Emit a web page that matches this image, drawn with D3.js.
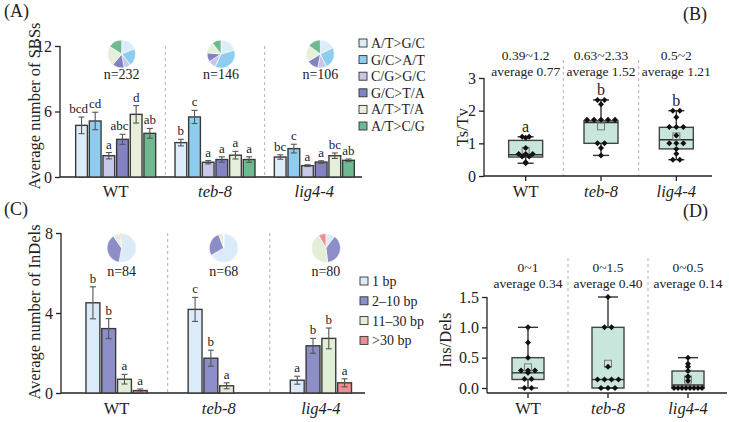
<!DOCTYPE html>
<html><head><meta charset="utf-8">
<script src="https://cdn.jsdelivr.net/npm/d3@7"></script>
<style>body{margin:0;background:#fff}svg{display:block}</style>
</head><body><svg id="c" width="729" height="422"></svg>
<script>
// ---------------- DATA ----------------
const groups = ["WT", "teb-8", "lig4-4"];

// Panel A: SBS
const sbsTypes = ["A/T>G/C", "G/C>A/T", "C/G>G/C", "G/C>T/A", "A/T>T/A", "A/T>C/G"];
const sbsMeanWT = [4.73, 5.13, 1.95, 3.45, 5.74, 4.0];
const sbsMeanTeb8 = [3.15, 5.5, 1.35, 1.6, 2.0, 1.6];
const sbsMeanLig44 = [1.83, 2.6, 1.04, 1.37, 1.95, 1.53];
const sbsErrWT = [0.76, 0.8, 0.29, 0.46, 0.8, 0.45];
const sbsErrTeb8 = [0.3, 0.6, 0.15, 0.25, 0.35, 0.25];
const sbsErrLig44 = [0.2, 0.4, 0.08, 0.12, 0.25, 0.12];
const sbsLetWT = ["bcd", "cd", "a", "abc", "d", "ab"];
const sbsLetTeb8 = ["b", "c", "a", "a", "a", "a"];
const sbsLetLig44 = ["bc", "c", "a", "a", "bc", "ab"];
const sbsN = ["n=232", "n=146", "n=106"];
const sbsTicks = [0, 6, 12];

// Panel C: InDels
const indelTypes = ["1 bp", "2\u201310 bp", "11\u201330 bp", ">30 bp"];
const indelMeanWT = [4.51, 3.22, 0.69, 0.12];
const indelMeanTeb8 = [4.18, 1.74, 0.36, 0];
const indelMeanLig44 = [0.64, 2.36, 2.73, 0.51];
const indelErrWT = [0.8, 0.5, 0.24, 0.08];
const indelErrTeb8 = [0.6, 0.4, 0.15, 0];
const indelErrLig44 = [0.2, 0.37, 0.52, 0.2];
const indelLetWT = ["b", "b", "a", "a"];
const indelLetTeb8 = ["c", "b", "a", ""];
const indelLetLig44 = ["a", "b", "b", "a"];
const indelN = ["n=84", "n=68", "n=80"];
const indelTicks = [0, 4, 8];

// Panel B: Ts/Tv
const tsWT = [1.2, 1.2, 1.17, 0.86, 0.67, 0.67, 0.67, 0.6, 0.6, 0.42, 0.39];
const tsTeb8 = [2.33, 2.33, 2.2, 1.72, 1.72, 1.72, 1.72, 1.72, 1.0, 1.0, 0.86, 0.63];
const tsLig44 = [2.0, 2.0, 1.8, 1.5, 1.5, 1.5, 1.24, 1.0, 1.0, 1.0, 0.83, 0.68, 0.5, 0.5];
const tsMin = [0.39, 0.63, 0.5];
const tsQ1 = [0.58, 1.0, 0.83];
const tsMed = [0.65, 1.64, 1.11];
const tsQ3 = [1.09, 1.69, 1.49];
const tsMax = [1.2, 2.33, 2.0];
const tsMean = [0.77, 1.52, 1.21];
const tsLetters = ["a", "b", "b"];
const tsTicks = [0, 1, 2, 3];

// Panel D: Ins/Dels
const idWT = [1, 0.75, 0.5, 0.29, 0.29, 0.29, 0.25, 0.15, 0.15, 0, 0];
const idTeb8 = [1.5, 1, 1, 0.35, 0.14, 0.14, 0.14, 0.14, 0, 0, 0];
const idLig44 = [0.5, 0.4, 0.35, 0.28, 0.19, 0.18, 0.12, 0, 0, 0, 0, 0, 0, 0, 0];
const idMin = [0, 0, 0];
const idQ1 = [0.14, 0, 0];
const idMed = [0.25, 0.14, 0.05];
const idQ3 = [0.5, 1.0, 0.28];
const idMax = [1, 1.5, 0.5];
const idMean = [0.34, 0.40, 0.14];
const idTicks = [0, 0.5, 1.0, 1.5];

// ---------------- STYLE ----------------
const sbsColors = ["#dcecf9", "#8ecdf0", "#c7c7e7", "#8383c3", "#e5efda", "#6fb991"];
const indelColors = ["#dcebf9", "#8d8dc7", "#e3eed7", "#ef8e92"];
const FONT = '"Liberation Serif","Times New Roman",serif';
const INK = "#222";
const BOXFILL = "#c9e6dc";

const svg = d3.select("#c");

function txt(x, y, s, size, opts = {}) {
  const t = svg.append("text").attr("x", x).attr("y", y).text(s)
    .attr("font-family", FONT).attr("font-size", size).attr("fill", INK)
    .attr("text-anchor", opts.anchor || "middle");
  if (opts.italic) t.attr("font-style", "italic");
  if (opts.rot) t.attr("transform", `rotate(-90,${x},${y})`);
  return t;
}

function yAxis(scale, ticks, x, fmt, y0) {
  const ax = d3.axisLeft(scale).tickValues(ticks).tickSize(5).tickSizeOuter(0).tickPadding(3)
    .tickFormat(fmt || d3.format("d"));
  const a = svg.append("g").attr("transform", `translate(${x},0)`).call(ax);
  a.attr("font-family", FONT).attr("font-size", 16);
  a.select(".domain").remove();
  a.selectAll("line").attr("stroke", INK).attr("stroke-width", 1.3);
  a.selectAll("text").attr("fill", INK);
  const r = scale.range();
  svg.append("line").attr("x1", x).attr("x2", x).attr("y1", y0 != null ? y0 : r[0]).attr("y2", r[1])
    .attr("stroke", INK).attr("stroke-width", 1.3);
}

function xBase(x0, x1, y) {
  svg.append("line").attr("x1", x0).attr("x2", x1).attr("y1", y).attr("y2", y)
    .attr("stroke", INK).attr("stroke-width", 1.3);
}

function groupLabels(xs, y, ticksY) {
  groups.forEach((g, i) => {
    const cx = xs(g) + xs.bandwidth() / 2;
    txt(cx, y, g, 16.5, { italic: i > 0 });
    if (ticksY != null) {
      svg.append("line").attr("x1", cx).attr("x2", cx).attr("y1", ticksY).attr("y2", ticksY + 5)
        .attr("stroke", INK).attr("stroke-width", 1.3);
    }
  });
}

function separators(xs, yTop, yBot) {
  groups.forEach((g, i) => {
    if (i === 0) return;
    svg.append("line").attr("x1", xs(g)).attr("x2", xs(g)).attr("y1", yTop).attr("y2", yBot)
      .attr("stroke", "#aaa").attr("stroke-width", 0.9).attr("stroke-dasharray", "3,3");
  });
}

function barPanel(xs, xi, ys, means, errs, lets, types, colors) {
  groups.forEach((g, gi) => {
    const cx = xs(g) + xs.bandwidth() / 2;
    types.forEach((t, k) => {
      const v = means[gi][k];
      if (v <= 0) return;
      const x = cx + xi(t);
      const w = xi.bandwidth();
      svg.append("rect").attr("x", x).attr("y", ys(v)).attr("width", w).attr("height", ys(0) - ys(v))
        .attr("fill", colors[k]).attr("stroke", "#3a3a3a").attr("stroke-width", 1.4);
      const e = errs[gi][k];
      const mx = x + w / 2;
      if (e > 0) {
        const g2 = svg.append("g").attr("stroke", "#555").attr("stroke-width", 1.1);
        g2.append("line").attr("x1", mx).attr("x2", mx).attr("y1", ys(v + e)).attr("y2", ys(v - e));
        g2.append("line").attr("x1", mx - 3).attr("x2", mx + 3).attr("y1", ys(v + e)).attr("y2", ys(v + e));
        g2.append("line").attr("x1", mx - 3).attr("x2", mx + 3).attr("y1", ys(v - e)).attr("y2", ys(v - e));
      }
      const L = lets[gi][k];
      if (L) txt(mx - (L.length > 2 ? 3 : 0), ys(v + e) - 4, L, 13);
    });
  });
}

function pies(xs, cy, r, means, colors, labels, ny, dx) {
  const pie = d3.pie().sort(null).value(d => d);
  const arc = d3.arc().innerRadius(0).outerRadius(r);
  groups.forEach((g, gi) => {
    const cx = xs(g) + xs.bandwidth() / 2 + dx;
    const gg = svg.append("g").attr("transform", `translate(${cx},${cy})`);
    gg.selectAll("path").data(pie(means[gi])).join("path")
      .attr("d", arc).attr("fill", (d, i) => colors[i]).attr("stroke", "#fff").attr("stroke-width", 0.6);
    txt(cx, ny, labels[gi], 14);
  });
}

function legend(x, y0, step, types, colors) {
  types.forEach((t, i) => {
    const y = y0 + i * step;
    svg.append("rect").attr("x", x).attr("y", y - 4).attr("width", 8).attr("height", 8)
      .attr("fill", colors[i]).attr("stroke", "#333").attr("stroke-width", 0.9);
    txt(x + 12, y + 5, t, 14, { anchor: "start" });
  });
}

function boxPanel(xs, ys, pts, mins, q1s, meds, q3s, maxs, means, bw, capW) {
  groups.forEach((g, gi) => {
    const cx = xs(g) + xs.bandwidth() / 2;
    const gg = svg.append("g");
    gg.append("rect").attr("x", cx - bw / 2).attr("y", ys(q3s[gi])).attr("width", bw)
      .attr("height", ys(q1s[gi]) - ys(q3s[gi])).attr("fill", BOXFILL).attr("stroke", "#444").attr("stroke-width", 1.4);
    const ln = (x1, y1, x2, y2) => gg.append("line").attr("x1", x1).attr("y1", y1).attr("x2", x2).attr("y2", y2)
      .attr("stroke", "#333").attr("stroke-width", 1.4);
    ln(cx, ys(q3s[gi]), cx, ys(maxs[gi]));
    ln(cx, ys(q1s[gi]), cx, ys(mins[gi]));
    ln(cx - capW / 2, ys(maxs[gi]), cx + capW / 2, ys(maxs[gi]));
    ln(cx - capW / 2, ys(mins[gi]), cx + capW / 2, ys(mins[gi]));
    ln(cx - bw / 2, ys(meds[gi]), cx + bw / 2, ys(meds[gi]));
    gg.append("rect").attr("x", cx - 3.5).attr("y", ys(means[gi]) - 3.5).attr("width", 7).attr("height", 7)
      .attr("fill", "none").attr("stroke", "#777").attr("stroke-width", 1);
    const byVal = d3.group(pts[gi], v => Math.round(v * 100));
    byVal.forEach(arr => {
      const n = arr.length;
      const sp = n > 1 ? Math.min(7, (bw - 4) / (n - 1)) : 0;
      arr.forEach((v, i) => {
        const px = cx + (i - (n - 1) / 2) * sp;
        gg.append("path").attr("d", d3.symbol(d3.symbolSquare, 18)())
          .attr("transform", `translate(${px},${ys(v)}) rotate(45)`).attr("fill", "#111");
      });
    });
  });
}

// ---------------- PANEL A ----------------
{
  const ys = d3.scaleLinear([0, 12], [177, 46]);
  const xs = d3.scaleBand(groups, [66, 364]);
  const xi = d3.scaleBand(sbsTypes, [-40, 40]).paddingInner(0.14);
  separators(xs, 46, 177);
  yAxis(ys, sbsTicks, 60);
  xBase(60, 362, 177);
  groupLabels(xs, 197);
  const means = [sbsMeanWT, sbsMeanTeb8, sbsMeanLig44];
  barPanel(xs, xi, ys, means, [sbsErrWT, sbsErrTeb8, sbsErrLig44], [sbsLetWT, sbsLetTeb8, sbsLetLig44], sbsTypes, sbsColors);
  pies(xs, 54, 14, means, sbsColors, sbsN, 79, 6);
  legend(359, 43, 16.6, sbsTypes, sbsColors);
  txt(40, 106, "Average number of SBSs", 16.5, { rot: true });
  txt(4, 17, "(A)", 18, { anchor: "start" });
}

// ---------------- PANEL C ----------------
{
  const ys = d3.scaleLinear([0, 8], [393, 233]);
  const xs = d3.scaleBand(groups, [65.5, 372]);
  const xi = d3.scaleBand(indelTypes, [-30.6, 30.6]).paddingInner(0.12);
  separators(xs, 233, 393);
  yAxis(ys, indelTicks, 61);
  xBase(61, 365, 393);
  groupLabels(xs, 414);
  const means = [indelMeanWT, indelMeanTeb8, indelMeanLig44];
  barPanel(xs, xi, ys, means, [indelErrWT, indelErrTeb8, indelErrLig44], [indelLetWT, indelLetTeb8, indelLetLig44], indelTypes, indelColors);
  pies(xs, 248, 14.5, means, indelColors, indelN, 276, 5);
  legend(360, 281, 19.8, indelTypes, indelColors);
  txt(40, 312, "Average number of InDels", 16.5, { rot: true });
  txt(4, 215, "(C)", 18, { anchor: "start" });
}

// ---------------- PANEL B ----------------
{
  const ys = d3.scaleLinear([0, 3], [176, 78]);
  const xs = d3.scaleBand(groups, [488, 714]);
  separators(xs, 60, 176);
  yAxis(ys, tsTicks, 484);
  xBase(484, 712, 176);
  groupLabels(xs, 197, 176);
  boxPanel(xs, ys, [tsWT, tsTeb8, tsLig44], tsMin, tsQ1, tsMed, tsQ3, tsMax, tsMean, 34, 16);
  groups.forEach((g, gi) => {
    const cx = xs(g) + xs.bandwidth() / 2;
    txt(cx, 60, `${tsMin[gi]}~${tsMax[gi]}`, 13.5);
    txt(cx, 76, "average " + d3.format(".2f")(tsMean[gi]), 13.5);
    txt(cx, ys(tsMax[gi]) - 5, tsLetters[gi], 16);
  });
  txt(468, 127, "Ts/Tv", 16.5, { rot: true });
  txt(683, 20, "(B)", 18, { anchor: "start" });
}

// ---------------- PANEL D ----------------
{
  const ys = d3.scaleLinear([0, 1.5], [388, 297]);
  const xs = d3.scaleBand(groups, [488, 728]);
  separators(xs, 258, 393);
  yAxis(ys, idTicks, 487, d3.format(".1f"), 393);
  xBase(487, 727, 393);
  groupLabels(xs, 414, 393);
  boxPanel(xs, ys, [idWT, idTeb8, idLig44], idMin, idQ1, idMed, idQ3, idMax, idMean, 32, 20);
  groups.forEach((g, gi) => {
    const cx = xs(g) + xs.bandwidth() / 2;
    txt(cx, 272, `${idMin[gi]}~${idMax[gi]}`, 13.5);
    txt(cx, 288, "average " + d3.format(".2f")(idMean[gi]), 13.5);
  });
  txt(451, 340, "Ins/Dels", 16.5, { rot: true });
  txt(683, 217, "(D)", 18, { anchor: "start" });
}
</script></body></html>
